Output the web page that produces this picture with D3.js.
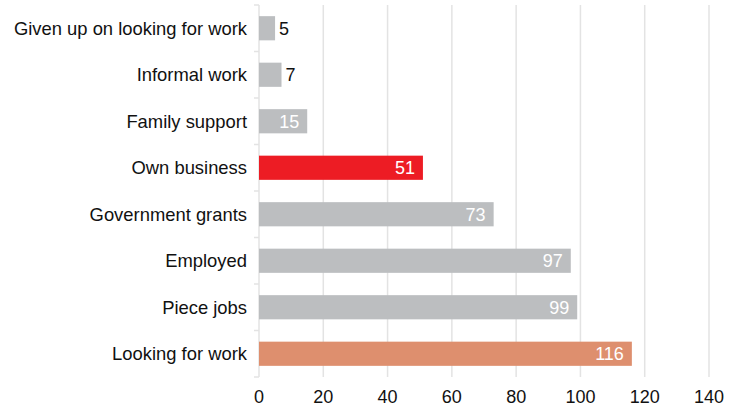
<!DOCTYPE html>
<html>
<head>
<meta charset="utf-8">
<script src="https://cdn.jsdelivr.net/npm/d3@7"></script>
<style>
  body { margin: 0; background: #fff; }
  text { font-family: "Liberation Sans", Arial, Helvetica, sans-serif; }
</style>
</head>
<body>
<div id="chart"></div>
<script>
// data
var categories = ["Given up on looking for work", "Informal work", "Family support", "Own business",
  "Government grants", "Employed", "Piece jobs", "Looking for work"];
var values = [5, 7, 15, 51, 73, 97, 99, 116];
var highlight = { "Own business": "#ed1c24", "Looking for work": "#de8f6e" };
var xTicks = [0, 20, 40, 60, 80, 100, 120, 140];

var margin = { top: 5, right: 33, bottom: 32, left: 259 },
  width = 742 - margin.left - margin.right,
  height = 409 - margin.top - margin.bottom;

var svg = d3
  .select("#chart")
  .append("svg")
  .attr("width", 742)
  .attr("height", 409)
  .append("g")
  .attr("transform", "translate(" + margin.left + "," + margin.top + ")");

var x = d3.scaleLinear().domain([0, 140]).range([0, width]);
var y = d3.scaleBand().domain(categories).range([0, height]).paddingInner(0.48).paddingOuter(0.24);

// vertical grid
svg
  .selectAll(".grid")
  .data(xTicks)
  .enter()
  .append("line")
  .attr("x1", function (d) { return x(d); })
  .attr("x2", function (d) { return x(d); })
  .attr("y1", 0)
  .attr("y2", height)
  .attr("stroke", "#e3e3e3")
  .attr("stroke-width", 1.5);

// small ticks on the left between categories
var step = height / categories.length;
svg
  .selectAll(".ytick")
  .data(d3.range(categories.length + 1))
  .enter()
  .append("line")
  .attr("x1", -5)
  .attr("x2", 0)
  .attr("y1", function (d) { return d * step; })
  .attr("y2", function (d) { return d * step; })
  .attr("stroke", "#e3e3e3")
  .attr("stroke-width", 1.5);

// bars
svg
  .selectAll(".bar")
  .data(categories)
  .enter()
  .append("rect")
  .attr("x", x(0))
  .attr("y", function (d) { return y(d); })
  .attr("width", function (d, i) { return x(values[i]) - x(0); })
  .attr("height", y.bandwidth())
  .attr("fill", function (d) { return highlight[d] || "#bcbec0"; });

// category labels
svg
  .selectAll(".cat")
  .data(categories)
  .enter()
  .append("text")
  .attr("x", -12)
  .attr("y", function (d) { return y(d) + y.bandwidth() / 2; })
  .attr("dy", "0.35em")
  .attr("text-anchor", "end")
  .style("font-size", "18.4px")
  .attr("fill", "#111")
  .text(function (d) { return d; });

// value labels
svg
  .selectAll(".val")
  .data(categories)
  .enter()
  .append("text")
  .attr("x", function (d, i) {
    return values[i] < 10 ? x(values[i]) + 4 : x(values[i]) - 8;
  })
  .attr("y", function (d) { return y(d) + y.bandwidth() / 2; })
  .attr("dy", "0.35em")
  .attr("text-anchor", function (d, i) { return values[i] < 10 ? "start" : "end"; })
  .style("font-size", "18px")
  .attr("fill", function (d, i) { return values[i] < 10 ? "#111" : "#fff"; })
  .text(function (d, i) { return values[i]; });

// x tick labels
svg
  .selectAll(".xlab")
  .data(xTicks)
  .enter()
  .append("text")
  .attr("x", function (d) { return x(d); })
  .attr("y", height + 26)
  .attr("text-anchor", "middle")
  .style("font-size", "18px")
  .attr("fill", "#111")
  .text(function (d) { return d; });
</script>
</body>
</html>
